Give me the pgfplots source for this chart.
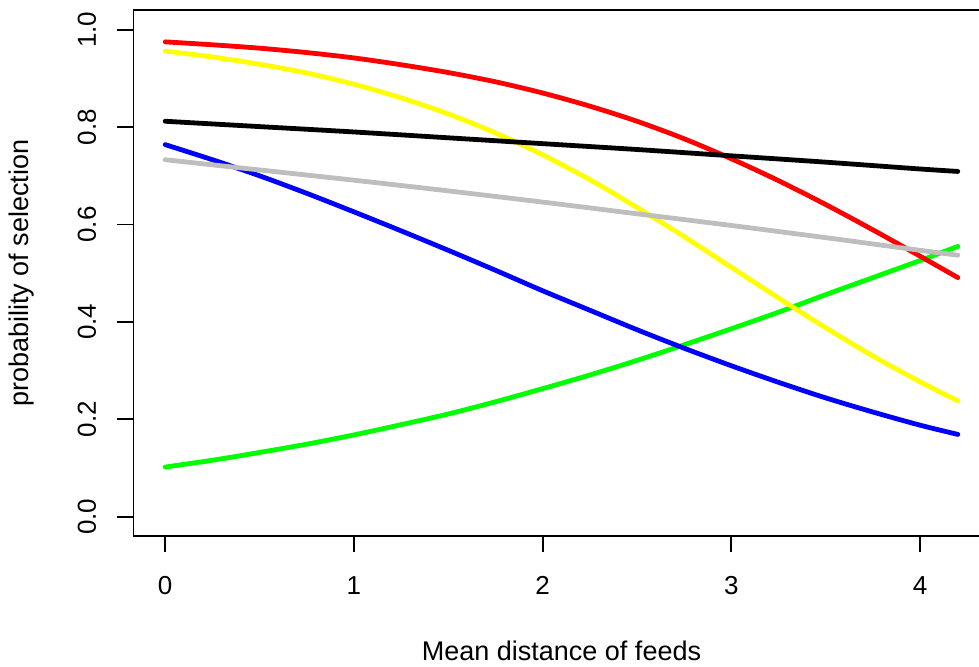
\documentclass[border=0pt]{standalone}
\usepackage{pgfplots}
\pgfplotsset{compat=1.18}
\usepackage{fontspec}
\setmainfont{Liberation Sans}
\definecolor{rgreen}{RGB}{0,255,0}
\definecolor{ryellow}{RGB}{255,255,0}
\definecolor{rgrey}{RGB}{190,190,190}
\definecolor{rblue}{RGB}{0,0,255}
\definecolor{rred}{RGB}{255,0,0}
\begin{document}
\begin{tikzpicture}
\begin{axis}[
  name=ax,
  scale only axis,
  width=428pt, height=263pt,
  xmin=-0.168, xmax=4.368,
  ymin=-0.04, ymax=1.04,
  axis line style={line width=0.9pt},
  every tick/.style={black, line width=0.9pt},
  tick align=outside,
  major tick length=8pt,
  xtick={0,1,2,3,4},
  ytick={0,0.2,0.4,0.6,0.8,1.0},
  xtick pos=bottom, ytick pos=left,
  /pgf/number format/assume math mode=true,
  tick label style={font=\fontsize{13}{15}\selectfont},
  xticklabel style={anchor=base, yshift=-21pt},
  yticklabel style={/pgf/number format/.cd, fixed, fixed zerofill, precision=1, /tikz/.cd, xshift=-10.8pt, rotate=90, anchor=base},
  every axis x label/.style={at={(axis description cs:0.5,-0.2367)}, anchor=base, font=\fontsize{13.5}{15}\selectfont},
  every axis y label/.style={at={(axis description cs:-0.1221,0.5)}, rotate=90, anchor=base, font=\fontsize{13.5}{15}\selectfont},
  xlabel={Mean distance of feeds},
  ylabel={probability of selection},
  every axis plot/.append style={line width=2.4pt, smooth, line cap=round},
]
% green
\addplot[rgreen] coordinates {(0,0.102) (0.25,0.116) (0.5,0.132) (0.75,0.149) (1.0,0.168) (1.25,0.189) (1.5,0.211) (1.75,0.236) (2.0,0.263) (2.25,0.291) (2.5,0.321) (2.75,0.353) (3.0,0.386) (3.25,0.420) (3.5,0.456) (3.75,0.491) (4.0,0.526) (4.2,0.555)};
% blue
\addplot[rblue] coordinates {(0,0.764) (0.25,0.733) (0.5,0.700) (0.75,0.664) (1.0,0.626) (1.25,0.587) (1.5,0.547) (1.75,0.506) (2.0,0.464) (2.25,0.424) (2.5,0.384) (2.75,0.346) (3.0,0.310) (3.25,0.276) (3.5,0.244) (3.75,0.215) (4.0,0.188) (4.2,0.169)};
% yellow
\addplot[ryellow] coordinates {(0,0.956) (0.25,0.944) (0.5,0.929) (0.75,0.911) (1.0,0.888) (1.25,0.860) (1.5,0.827) (1.75,0.788) (2.0,0.743) (2.25,0.692) (2.5,0.635) (2.75,0.575) (3.0,0.512) (3.25,0.449) (3.5,0.388) (3.75,0.330) (4.0,0.277) (4.2,0.238)};
% red
\addplot[rred] coordinates {(0,0.975) (0.25,0.969) (0.5,0.962) (0.75,0.953) (1.0,0.942) (1.25,0.928) (1.5,0.912) (1.75,0.893) (2.0,0.870) (2.25,0.843) (2.5,0.812) (2.75,0.776) (3.0,0.735) (3.25,0.690) (3.5,0.641) (3.75,0.589) (4.0,0.535) (4.2,0.491)};
% grey
\addplot[rgrey] coordinates {(0,0.733) (0.5,0.712) (1.0,0.691) (1.5,0.669) (2.0,0.646) (2.5,0.622) (3.0,0.598) (3.5,0.573) (4.0,0.547) (4.2,0.537)};
% black
\addplot[black] coordinates {(0,0.812) (0.5,0.801) (1.0,0.790) (1.5,0.778) (2.0,0.766) (2.5,0.754) (3.0,0.741) (3.5,0.728) (4.0,0.714) (4.2,0.709)};
\end{axis}
\pgfresetboundingbox
\path[use as bounding box] ([shift={(-66.75pt,-64.9pt)}]ax.south west) rectangle ([shift={(422.75pt,268.1pt)}]ax.south west);
\end{tikzpicture}
\end{document}
